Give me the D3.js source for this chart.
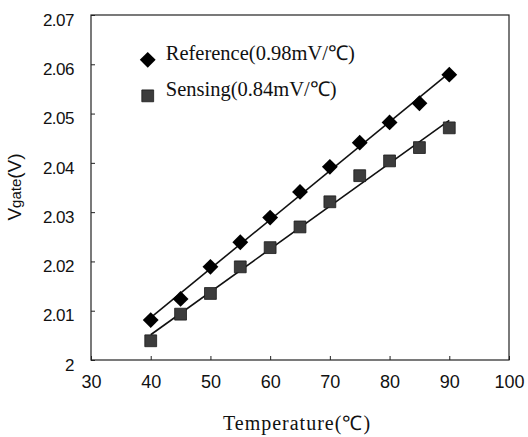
<!DOCTYPE html>
<html>
<head>
<meta charset="utf-8">
<script src="https://cdn.jsdelivr.net/npm/d3@7"></script>
<style>
  body { margin: 0; background: #fff; }
  svg { display: block; }
</style>
</head>
<body>
<div id="chart"></div>
<script>
// temperatures (℃) and measured gate voltages (V)
const temps = [40, 45, 50, 55, 60, 65, 70, 75, 80, 85, 90];
const refValues = [2.0081, 2.0124, 2.0189, 2.0239, 2.0289, 2.0341, 2.0392, 2.0441, 2.0482, 2.0521, 2.0579];
const senseValues = [2.0039, 2.0093, 2.0135, 2.0189, 2.0228, 2.0270, 2.0321, 2.0374, 2.0404, 2.0431, 2.0471];
const xTicks = [30, 40, 50, 60, 70, 80, 90, 100];
const yTicks = [2, 2.01, 2.02, 2.03, 2.04, 2.05, 2.06, 2.07];
const legendLabels = ["Reference(0.98mV/℃)", "Sensing(0.84mV/℃)"];

const W = 528, H = 437;
const margin = { top: 15, right: 19, bottom: 77, left: 91 };
const width = W - margin.left - margin.right;
const height = H - margin.top - margin.bottom;

const svg = d3.select("#chart").append("svg")
  .attr("width", W)
  .attr("height", H);

const g = svg.append("g")
  .attr("transform", `translate(${margin.left},${margin.top})`);

const x = d3.scaleLinear().domain([30, 100]).range([0, width]);
const y = d3.scaleLinear().domain([2, 2.07]).range([height, 0]);

// frame
g.append("rect")
  .attr("width", width)
  .attr("height", height)
  .attr("fill", "none")
  .attr("stroke", "#222")
  .attr("stroke-width", 1.2);

// axes with inward ticks
const xAxis = g.append("g")
  .attr("transform", `translate(0,${height})`)
  .call(d3.axisBottom(x).tickValues(xTicks).tickSizeInner(-4).tickSizeOuter(0).tickPadding(22).tickFormat(d3.format("d")));

const yAxis = g.append("g")
  .call(d3.axisLeft(y).tickValues(yTicks).tickSizeInner(-4).tickSizeOuter(0).tickPadding(17).tickFormat(d => d === 2 ? "2" : d3.format(".2f")(d)));

[xAxis, yAxis].forEach(a => {
  a.select(".domain").remove();
  a.selectAll(".tick line").attr("stroke", "#222");
  a.selectAll("text")
    .attr("fill", "#111")
    .style("font-family", "'Liberation Sans', Arial, sans-serif");
});
xAxis.selectAll("text").style("font-size", "18px").attr("dy", "0.35em");
yAxis.selectAll("text").style("font-size", "17px").attr("dy", "0.6em").style("letter-spacing", "-0.5px");

// linear fits
function fit(xs, ys) {
  const mx = d3.mean(xs), my = d3.mean(ys);
  const b = d3.sum(xs, (v, i) => (v - mx) * (ys[i] - my)) / d3.sum(xs, v => (v - mx) * (v - mx));
  return [[xs[0], my + b * (xs[0] - mx)], [xs[xs.length - 1], my + b * (xs[xs.length - 1] - mx)]];
}
const line = d3.line().x(d => x(d[0])).y(d => y(d[1]));

[refValues, senseValues].forEach(vals => {
  g.append("path")
    .attr("d", line(fit(temps, vals)))
    .attr("fill", "none")
    .attr("stroke", "#111")
    .attr("stroke-width", 1.6);
});

// markers
const diamond = d3.symbol().type(d3.symbolDiamond2).size(160);
const square = d3.symbol().type(d3.symbolSquare).size(140);

g.selectAll(".ref")
  .data(temps)
  .enter().append("path")
  .attr("class", "ref")
  .attr("transform", (d, i) => `translate(${x(d)},${y(refValues[i])})`)
  .attr("d", diamond)
  .attr("fill", "#000");

g.selectAll(".sense")
  .data(temps)
  .enter().append("path")
  .attr("class", "sense")
  .attr("transform", (d, i) => `translate(${x(d)},${y(senseValues[i])})`)
  .attr("d", square)
  .attr("fill", "#3c3c3c")
  .attr("stroke", "#1a1a1a")
  .attr("stroke-width", 0.8);

// legend
const legend = g.append("g")
  .attr("transform", `translate(${x(39.5)},${y(2.0609)})`);

legend.append("path")
  .attr("d", diamond)
  .attr("fill", "#000");
legend.append("path")
  .attr("transform", "translate(0,36)")
  .attr("d", square)
  .attr("fill", "#3c3c3c")
  .attr("stroke", "#1a1a1a")
  .attr("stroke-width", 0.8);

legend.selectAll("text")
  .data(legendLabels)
  .enter().append("text")
  .attr("x", 18)
  .attr("y", (d, i) => i * 36 - 7)
  .attr("dy", "0.35em")
  .style("font-family", "'Liberation Serif', 'Times New Roman', serif")
  .style("font-size", "20.5px")
  .attr("fill", "#111")
  .text(d => d);

// axis titles
const yTitle = svg.append("text")
  .attr("transform", `translate(21,${187}) rotate(-90)`)
  .attr("text-anchor", "middle")
  .style("font-family", "'Liberation Sans', Arial, sans-serif")
  .style("font-size", "19px")
  .attr("fill", "#111");
yTitle.append("tspan").text("V");
yTitle.append("tspan").style("font-size", "15px").text("gate");
yTitle.append("tspan").text("(V)");

svg.append("text")
  .attr("x", 297)
  .attr("y", 430)
  .attr("text-anchor", "middle")
  .style("font-family", "'Liberation Serif', 'Times New Roman', serif")
  .style("font-size", "20px")
  .style("letter-spacing", "1px")
  .attr("fill", "#111")
  .text("Temperature(℃)");
</script>
</body>
</html>
